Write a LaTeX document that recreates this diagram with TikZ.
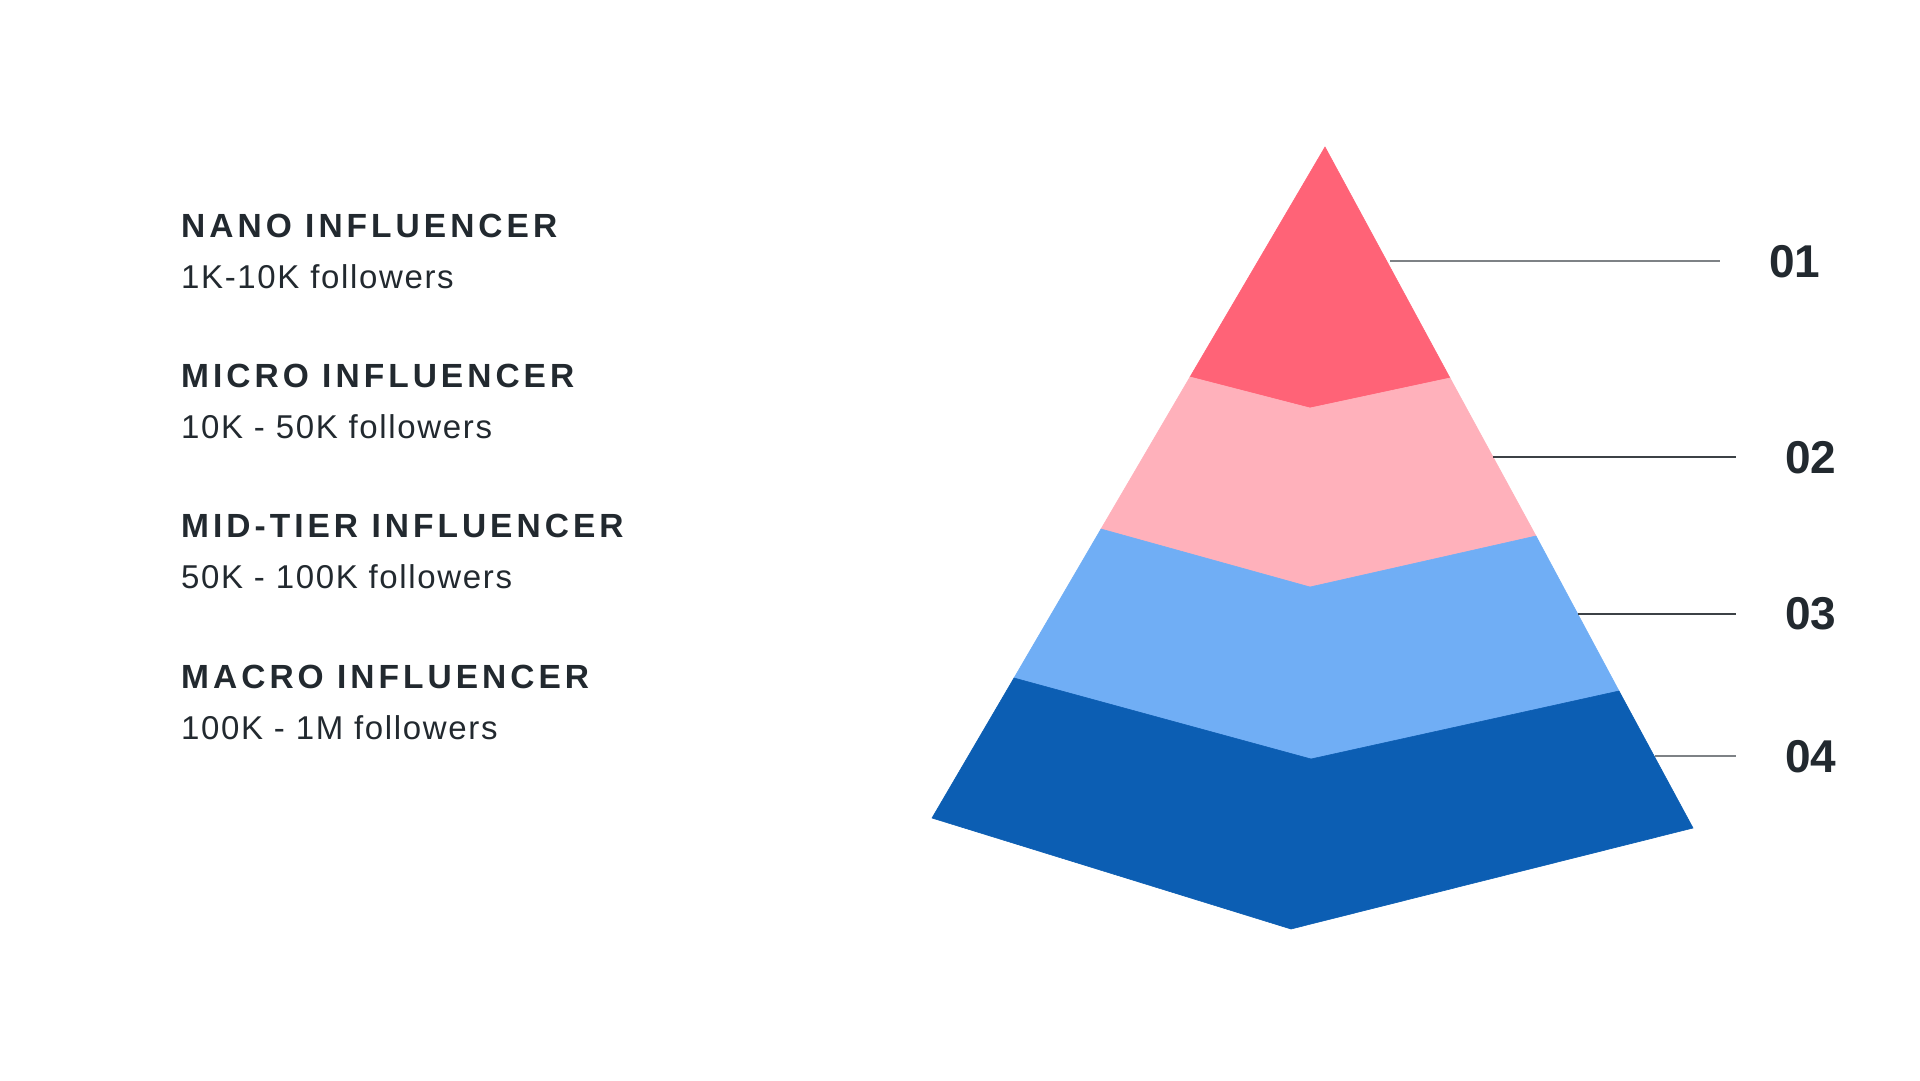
\documentclass[tikz,border=0pt]{standalone}
\usepackage{fontspec}
\setmainfont{Liberation Sans}
\newfontfamily\headfont[LetterSpace=12]{Liberation Sans}
\newfontfamily\subfont[LetterSpace=5]{Liberation Sans}
\definecolor{txt}{HTML}{22292F}
\definecolor{cA}{HTML}{FF6377}
\definecolor{cB}{HTML}{FFB1BB}
\definecolor{cC}{HTML}{70AEF5}
\definecolor{cD}{HTML}{0C5EB3}
\definecolor{lnA}{HTML}{7E8286}
\definecolor{lnB}{HTML}{3C4146}
\begin{document}
\begin{tikzpicture}[x=1pt,y=-1pt,
  head/.style={anchor=base west,inner sep=0pt,text=txt,font=\headfont\fontsize{33.5}{38}\selectfont\bfseries},
  sub/.style={anchor=base west,inner sep=0pt,text=txt,font=\subfont\fontsize{33}{38}\selectfont},
  num/.style={anchor=west,inner sep=0pt,text=txt,font=\fontsize{46}{52}\selectfont\bfseries},
  layer/.style={fill=#1,draw=#1,line width=0.6pt},
  leader/.style={draw=#1,line width=1.4pt}]
\useasboundingbox (0,0) rectangle (1920,1080);
\fill[white] (0,0) rectangle (1920,1080);
% pyramid points
\coordinate (apex) at (1325,147);
\coordinate (l1) at (1190,377); \coordinate (m1) at (1310,408); \coordinate (r1) at (1450,378);
\coordinate (l2) at (1101,529); \coordinate (m2) at (1310,587); \coordinate (r2) at (1536,536);
\coordinate (l3) at (1014,678); \coordinate (m3) at (1311,759); \coordinate (r3) at (1619,691);
\coordinate (l4) at (932,818);  \coordinate (m4) at (1291,929); \coordinate (r4) at (1693,828);
\path[layer=cA] (apex) -- (r1) -- (m1) -- (l1) -- cycle;
\path[layer=cB] (l1) -- (m1) -- (r1) -- (r2) -- (m2) -- (l2) -- cycle;
\path[layer=cC] (l2) -- (m2) -- (r2) -- (r3) -- (m3) -- (l3) -- cycle;
\path[layer=cD] (l3) -- (m3) -- (r3) -- (r4) -- (m4) -- (l4) -- cycle;
% leader lines
\coordinate (s1) at (1390,261); \coordinate (e1) at (1720,261);
\coordinate (s2) at (1493,457); \coordinate (e2) at (1736,457);
\coordinate (s3) at (1578,614); \coordinate (e3) at (1736,614);
\coordinate (s4) at (1655,756); \coordinate (e4) at (1736,756);
\draw[leader=lnA] (s1) -- (e1);
\draw[leader=lnB] (s2) -- (e2);
\draw[leader=lnB] (s3) -- (e3);
\draw[leader=lnA] (s4) -- (e4);
\node[num] (n1) at (1769,262) {01};
\node[num] (n2) at (1785,458) {02};
\node[num] (n3) at (1785,614) {03};
\node[num] (n4) at (1785,757) {04};
% left texts
\node[head] (h1) at (181,237) {NANO INFLUENCER};
\node[sub]  (t1) at (181,288) {1K-10K followers};
\node[head] (h2) at (181,387) {MICRO INFLUENCER};
\node[sub]  (t2) at (181,438) {10K - 50K followers};
\node[head] (h3) at (181,537) {MID-TIER INFLUENCER};
\node[sub]  (t3) at (181,588) {50K - 100K followers};
\node[head] (h4) at (181,688) {MACRO INFLUENCER};
\node[sub]  (t4) at (181,739) {100K - 1M followers};
\end{tikzpicture}
\end{document}
